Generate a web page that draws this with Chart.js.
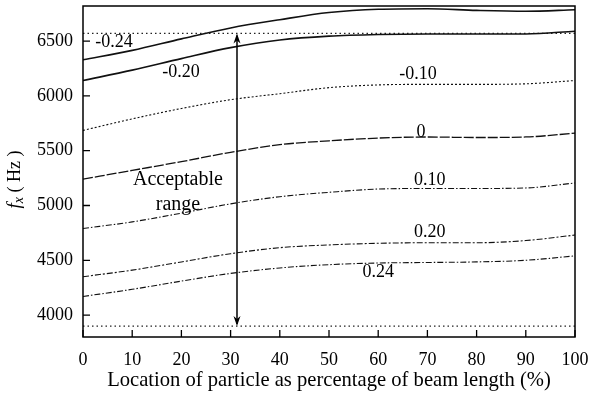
<!DOCTYPE html>
<html lang="en">
<head>
    <meta charset="UTF-8">
    <title>Frequency fx vs particle location</title>
    <script src="https://cdn.jsdelivr.net/npm/chart.js"></script>
    <style>
        body {
            margin: 0;
            background: #fff;
        }
        #wrap {
            width: 589px;
            height: 394px;
        }
    </style>
</head>
<body>
    <div id="wrap"><canvas id="grafico"></canvas></div>

    <script>
        // datos
        var xPos = [0, 10, 20, 30, 40, 50, 60, 70, 80, 90, 100];
        var curvaM024 = [6330, 6415, 6520, 6620, 6695, 6760, 6790, 6795, 6780, 6772, 6786];
        var curvaM020 = [6140, 6235, 6340, 6440, 6510, 6545, 6560, 6565, 6565, 6565, 6590];
        var curvaM010 = [5685, 5790, 5885, 5965, 6020, 6075, 6100, 6105, 6105, 6110, 6140];
        var curva0 = [5240, 5320, 5400, 5485, 5555, 5590, 5615, 5625, 5620, 5625, 5660];
        var curvaP010 = [4790, 4850, 4930, 5015, 5080, 5120, 5150, 5155, 5155, 5160, 5205];
        var curvaP020 = [4350, 4410, 4485, 4560, 4615, 4640, 4655, 4660, 4660, 4680, 4730];
        var curvaP024 = [4170, 4235, 4310, 4380, 4430, 4460, 4475, 4480, 4485, 4500, 4540];

        var limiteSup = 6570;
        var limiteInf = 3900;
        var flechaX = 31.3;

        var yTicks = [4000, 4500, 5000, 5500, 6000, 6500];
        var xTicks = [0, 10, 20, 30, 40, 50, 60, 70, 80, 90, 100];

        var etiquetas = ['-0.24', '-0.20', '-0.10', '0', '0.10', '0.20', '0.24', 'Acceptable', 'range'];
        var etiquetasX = [6.3, 19.9, 68.1, 68.7, 70.5, 70.5, 60, 19.3, 19.3];
        var etiquetasY = [6488, 6215, 6196, 5671, 5231, 4759, 4395, 5231, 5003];

        var fuente = "'Liberation Serif', 'Times New Roman', serif";

        function puntos(ys) {
            return xPos.map(function (x, i) { return { x: x, y: ys[i] }; });
        }

        function curva(ys, dash, ancho) {
            return {
                data: puntos(ys),
                borderColor: '#111',
                borderWidth: ancho,
                borderDash: dash,
                pointRadius: 0,
                cubicInterpolationMode: 'monotone',
                fill: false
            };
        }

        function horizontal(y) {
            return {
                data: [{ x: 0, y: y }, { x: 100, y: y }],
                borderColor: '#222',
                borderWidth: 1.3,
                borderDash: [1.5, 3],
                pointRadius: 0,
                fill: false
            };
        }

        // marco, marcas hacia dentro, flecha, textos
        var extras = {
            id: 'extras',
            afterDatasetsDraw: function (chart) {
                var c = chart.ctx;
                var a = chart.chartArea;
                var sx = chart.scales.x;
                var sy = chart.scales.y;
                c.save();
                c.strokeStyle = '#000';
                c.lineWidth = 1.5;
                c.strokeRect(a.left, a.top, a.right - a.left, a.bottom - a.top);

                c.lineWidth = 1.3;
                c.beginPath();
                yTicks.forEach(function (v) {
                    var py = sy.getPixelForValue(v);
                    c.moveTo(a.left, py);
                    c.lineTo(a.left + 7, py);
                });
                xTicks.forEach(function (v) {
                    var px = sx.getPixelForValue(v);
                    c.moveTo(px, a.bottom);
                    c.lineTo(px, a.bottom - 7);
                });
                c.stroke();

                // flecha doble
                var fx = sx.getPixelForValue(flechaX);
                var y1 = sy.getPixelForValue(limiteSup);
                var y2 = sy.getPixelForValue(limiteInf);
                c.lineWidth = 1.5;
                c.beginPath();
                c.moveTo(fx, y1 + 2);
                c.lineTo(fx, y2 - 2);
                c.stroke();
                c.beginPath();
                c.moveTo(fx, y1);
                c.lineTo(fx - 3.5, y1 + 10);
                c.lineTo(fx, y1 + 7);
                c.lineTo(fx + 3.5, y1 + 10);
                c.closePath();
                c.moveTo(fx, y2);
                c.lineTo(fx - 3.5, y2 - 10);
                c.lineTo(fx, y2 - 7);
                c.lineTo(fx + 3.5, y2 - 10);
                c.closePath();
                c.fillStyle = '#000';
                c.fill();

                // etiquetas de las curvas
                c.fillStyle = '#000';
                c.textAlign = 'center';
                c.textBaseline = 'middle';
                etiquetas.forEach(function (t, i) {
                    var grande = (t === 'Acceptable' || t === 'range');
                    c.font = (grande ? '20px ' : '18px ') + fuente;
                    c.fillText(t, sx.getPixelForValue(etiquetasX[i]), sy.getPixelForValue(etiquetasY[i]));
                });

                // titulo del eje y: f_x ( Hz )
                c.translate(15, (a.top + a.bottom) / 2 + 8);
                c.rotate(-Math.PI / 2);
                c.textAlign = 'left';
                c.textBaseline = 'middle';
                var partes = [
                    { t: 'f', f: 'italic 19px ' + fuente, dy: 0 },
                    { t: 'x', f: 'italic 14px ' + fuente, dy: 4 },
                    { t: ' ( Hz )', f: '18px ' + fuente, dy: 0 }
                ];
                var total = 0;
                partes.forEach(function (p) { c.font = p.f; total += c.measureText(p.t).width; });
                var pos = -total / 2;
                partes.forEach(function (p) {
                    c.font = p.f;
                    c.fillText(p.t, pos, p.dy);
                    pos += c.measureText(p.t).width;
                });
                c.restore();
            }
        };

        var ctx = document.getElementById('grafico').getContext('2d');
        var myChart = new Chart(ctx, {
            type: 'line',
            data: {
                datasets: [
                    curva(curvaM024, [], 1.6),
                    curva(curvaM020, [], 1.6),
                    curva(curvaM010, [2, 2], 1.1),
                    curva(curva0, [10, 2], 1.3),
                    curva(curvaP010, [6, 2, 1.5, 2], 1.1),
                    curva(curvaP020, [6, 2, 2, 2], 1.1),
                    curva(curvaP024, [6, 2, 1.5, 2], 1.1),
                    horizontal(limiteSup),
                    horizontal(limiteInf)
                ]
            },
            options: {
                responsive: true,
                maintainAspectRatio: false,
                animation: false,
                layout: { padding: { top: 6, right: 14, left: 0, bottom: 0 } },
                plugins: {
                    legend: { display: false },
                    tooltip: { enabled: false }
                },
                scales: {
                    x: {
                        type: 'linear',
                        min: 0,
                        max: 100,
                        afterBuildTicks: function (s) {
                            s.ticks = xTicks.map(function (v) { return { value: v }; });
                        },
                        afterFit: function (s) {
                            s.height = 57;
                            s.paddingLeft = 0;
                            s.paddingRight = 0;
                        },
                        grid: { display: false, drawTicks: false },
                        border: { display: false },
                        ticks: {
                            color: '#000',
                            padding: 12,
                            maxRotation: 0,
                            font: { family: fuente, size: 18 },
                            callback: function (v) { return String(v); }
                        },
                        title: {
                            display: true,
                            text: 'Location of particle as percentage of beam length (%)',
                            color: '#000',
                            padding: { top: 0, bottom: 1 },
                            font: { family: fuente, size: 20.6 }
                        }
                    },
                    y: {
                        type: 'linear',
                        min: 3800,
                        max: 6820,
                        afterBuildTicks: function (s) {
                            s.ticks = yTicks.map(function (v) { return { value: v }; });
                        },
                        afterFit: function (s) {
                            s.width = 83;
                            s.paddingTop = 0;
                            s.paddingBottom = 0;
                        },
                        grid: { display: false, drawTicks: false },
                        border: { display: false },
                        ticks: {
                            color: '#000',
                            padding: 10,
                            font: { family: fuente, size: 18 },
                            callback: function (v) { return String(v); }
                        }
                    }
                }
            },
            plugins: [extras]
        });
    </script>
</body>
</html>
